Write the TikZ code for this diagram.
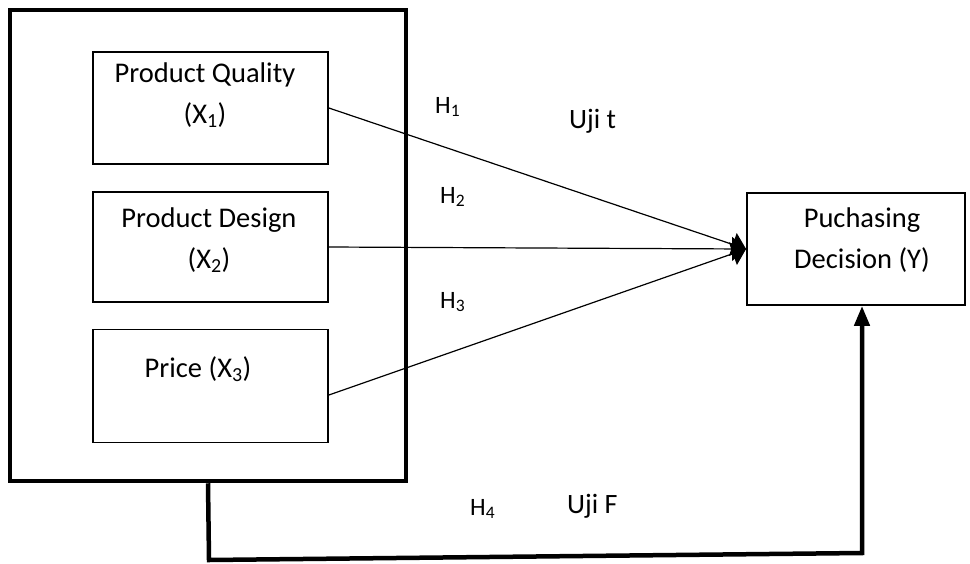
\documentclass[tikz,border=0pt]{standalone}
\usepackage{fontspec}
\setmainfont{Carlito}
\usepackage{tikz}
\usetikzlibrary{arrows.meta}
\usetikzlibrary{positioning}

\begin{document}
\begin{tikzpicture}[
    x=1pt, y=-1pt,
    varbox/.style={rectangle, draw, line width=1.8pt, inner sep=0pt},
    boxtext/.style={align=center, inner sep=0pt, anchor=base,
      font=\fontsize{28.5}{41}\selectfont},
    hyp/.style={inner sep=0pt, anchor=base west, font=\fontsize{25}{30}\selectfont},
    test/.style={inner sep=0pt, anchor=base west, font=\fontsize{28}{34}\selectfont},
    path/.style={line width=1.2pt, -{Triangle[length=14pt, width=24pt]}},
  ]
  \useasboundingbox (0,0) rectangle (970,563);

  % Independent variables
  \node[varbox, line width=4.5pt, minimum width=396pt, minimum height=471pt] (outer) at (208, 245.5) {};
  \node[varbox, minimum width=235pt, minimum height=112pt] (x1) at (210.5, 108) {};
  \node[varbox, minimum width=235pt, minimum height=110pt] (x2) at (210.5, 247) {};
  \node[varbox, minimum width=235pt, minimum height=113pt] (x3) at (210.5, 386) {};

  % Dependent variable
  \node[varbox, minimum width=218pt, minimum height=112pt] (y) at (856, 249) {};

  % Box texts (base = last line)
  \node[boxtext] (tx1) at (205, 123) {Product Quality\\(X\textsubscript{1})};
  \node[boxtext] (tx2) at (209, 268) {Product Design\\(X\textsubscript{2})};
  \node[boxtext] (tx3) at (198, 377) {Price (X\textsubscript{3})};
  \node[boxtext] (ty)  at (862, 268) {Puchasing\\Decision (Y)};

  % Partial paths
  \draw[path] (x1.east) -- (y.west);
  \draw[path] (x2.east) -- (y.west);
  \draw[path] ([yshift=-9pt]x3.east) -- (y.west);

  % Simultaneous path
  \coordinate (fl) at (209, 560);
  \coordinate (fr) at (862, 553);
  \draw[line width=4.5pt, -{Triangle[length=20pt, width=15pt]}]
    (outer.south) -- (fl) -- (fr) -- (fr |- y.south);

  % Hypothesis labels
  \node[hyp] (h1) at (435, 113) {H\textsubscript{1}};
  \node[hyp] (h2) at (440, 203) {H\textsubscript{2}};
  \node[hyp] (h3) at (440, 308) {H\textsubscript{3}};
  \node[hyp] (h4) at (470, 515) {H\textsubscript{4}};
  \node[test] (ujit) at (569, 128) {Uji t};
  \node[test] (ujif) at (567, 513) {Uji F};

\end{tikzpicture}
\end{document}
